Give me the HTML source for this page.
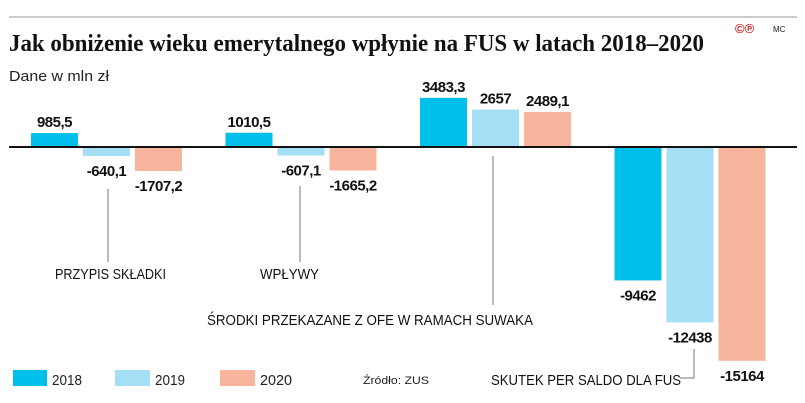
<!DOCTYPE html>
<html><head><meta charset="utf-8"><style>
body{margin:0;background:#fff;width:805px;height:403px;overflow:hidden}
svg{display:block;font-family:"Liberation Sans",sans-serif}
</style></head><body>
<svg id="c" width="805" height="403">
<line x1="9" y1="17" x2="797" y2="17" stroke="#999" stroke-width="1"/>
<text x="9" y="51" font-family="Liberation Serif,serif" font-weight="bold" font-size="24" fill="#111" textLength="695" lengthAdjust="spacingAndGlyphs">Jak obniżenie wieku emerytalnego wpłynie na FUS w latach 2018–2020</text>
<text x="735" y="33" font-size="13" fill="#e02020" font-weight="bold">©℗</text>
<text x="773" y="32" font-size="8" fill="#222">MC</text>
<text x="9" y="81" font-size="15" fill="#222" textLength="100" lengthAdjust="spacingAndGlyphs">Dane w mln zł</text>
<g id="bars"></g>
<line x1="9" y1="147" x2="797" y2="147" stroke="#111" stroke-width="2"/>
<g stroke="#777" stroke-width="1" fill="none">
<path d="M108 189V262"/>
<path d="M300 186V262"/>
<path d="M493 156V305"/>
<path d="M694 349V378H680"/>
</g>
<g font-size="15" fill="#111">
<text x="55" y="279" textLength="111" lengthAdjust="spacingAndGlyphs">PRZYPIS SKŁADKI</text>
<text x="260" y="279" textLength="59" lengthAdjust="spacingAndGlyphs">WPŁYWY</text>
<text x="207" y="325" textLength="326" lengthAdjust="spacingAndGlyphs">ŚRODKI PRZEKAZANE Z OFE W RAMACH SUWAKA</text>
<text x="491" y="385" textLength="190" lengthAdjust="spacingAndGlyphs">SKUTEK PER SALDO DLA FUS</text>
</g>
<g font-size="15" fill="#222">
<rect x="13" y="370" width="34" height="16" fill="#00bfea"/>
<text x="52" y="385" textLength="30" lengthAdjust="spacingAndGlyphs">2018</text>
<rect x="115" y="370" width="35" height="16" fill="#a4dff6"/>
<text x="155" y="385" textLength="30" lengthAdjust="spacingAndGlyphs">2019</text>
<rect x="220" y="370" width="35" height="16" fill="#f7b59d"/>
<text x="260" y="385" textLength="32" lengthAdjust="spacingAndGlyphs">2020</text>
<text x="363" y="384" font-size="11" textLength="66" lengthAdjust="spacingAndGlyphs">Źródło: ZUS</text>
</g>
</svg>
<script>
const categories=["PRZYPIS SKŁADKI","WPŁYWY","ŚRODKI PRZEKAZANE Z OFE","SKUTEK PER SALDO"];
const years=["2018","2019","2020"];
const v2018=[985.5,1010.5,3483.3,-9462];
const v2019=[-640.1,-607.1,2657,-12438];
const v2020=[-1707.2,-1665.2,2489.1,-15164];
const labels2018=["985,5","1010,5","3483,3","-9462"];
const labels2019=["-640,1","-607,1","2657","-12438"];
const labels2020=["-1707,2","-1665,2","2489,1","-15164"];
const colors=["#00bfea","#a4dff6","#f7b59d"];
const series=[v2018,v2019,v2020],slabels=[labels2018,labels2019,labels2020];
const y0=147,k=0.0141;
function y(v){return y0-v*k;}
function x(ci,si){return 31+ci*194.5+si*52;}
const g=document.getElementById('bars'),NS="http://www.w3.org/2000/svg";
series.forEach((s,si)=>s.forEach((v,ci)=>{
 const r=document.createElementNS(NS,'rect');
 r.setAttribute('x',x(ci,si));r.setAttribute('width',47);
 r.setAttribute('y',Math.min(y(v),y0));r.setAttribute('height',Math.abs(y(v)-y0));
 r.setAttribute('fill',colors[si]);
 
 
 g.appendChild(r);
 const t=document.createElementNS(NS,'text');
 t.setAttribute('x',x(ci,si)+23.5);
 t.setAttribute('y',v>=0?y(v)-6:y(v)+20);
 t.setAttribute('text-anchor','middle');t.setAttribute('font-weight','bold');
 t.setAttribute('font-size','15');t.setAttribute('fill','#111');
 t.setAttribute('letter-spacing','-0.5');
 t.textContent=slabels[si][ci];
 
 
 g.appendChild(t);
}));
</script>
</body></html>
